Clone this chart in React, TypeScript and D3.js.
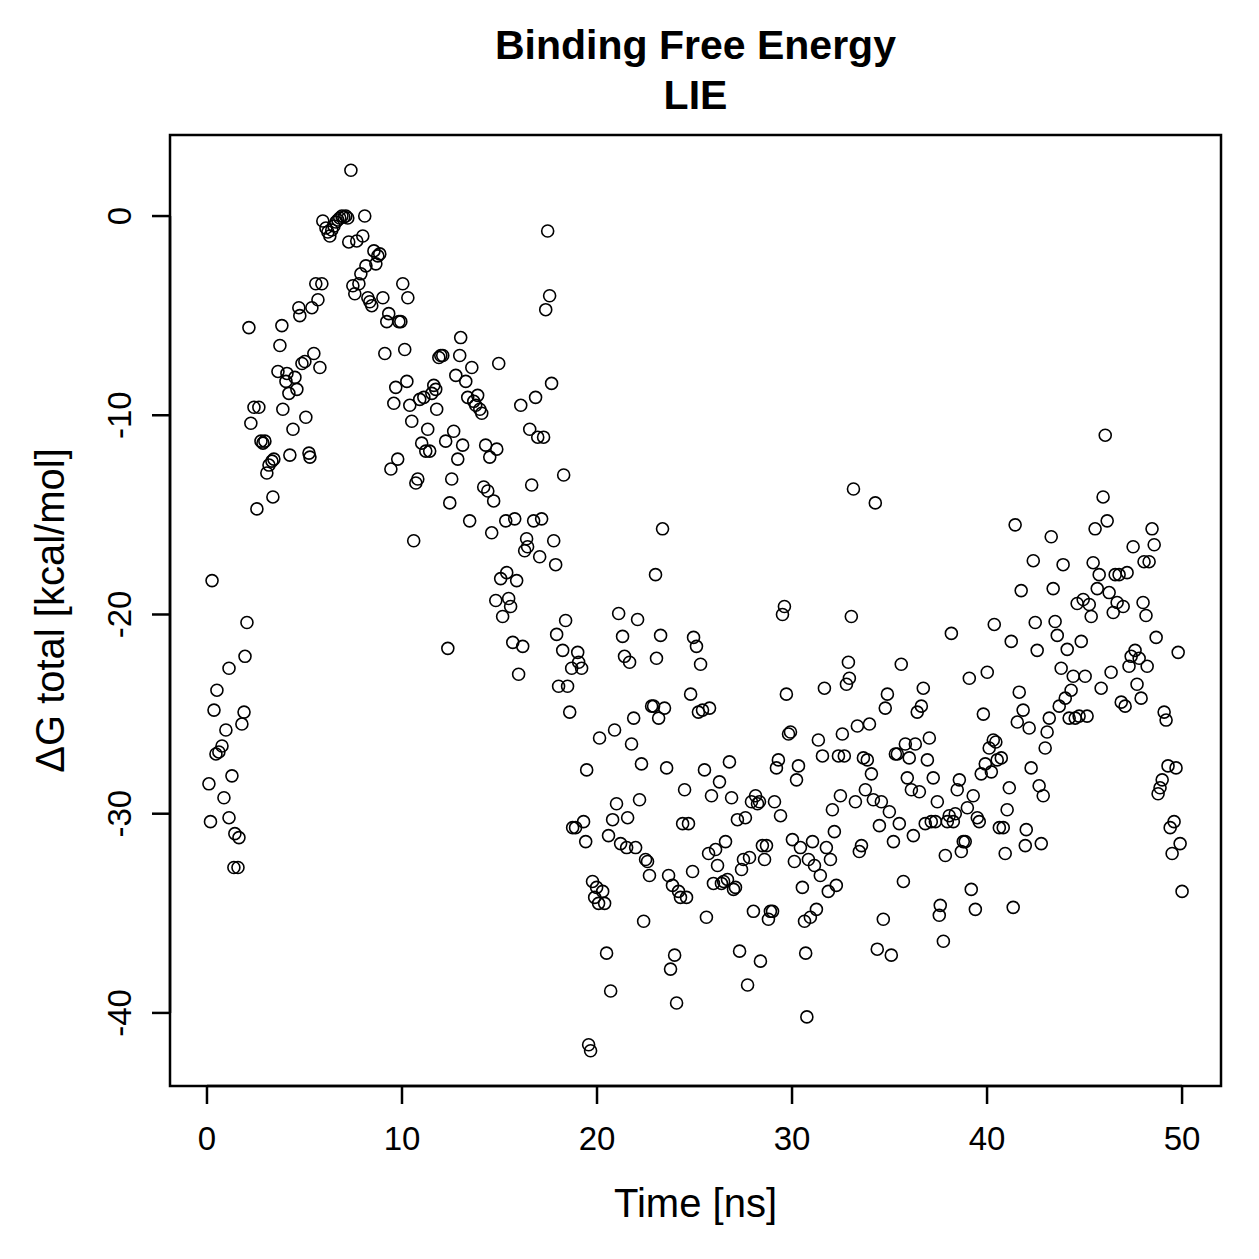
import * as d3 from 'd3';
import React, {useEffect, useRef} from 'react';

// time [ns] of each frame
const timeNs: number[] = [
  0.1, 0.18, 0.26, 0.36, 0.46, 0.51, 0.61, 0.77, 0.87, 0.97, 1.13, 1.13, 1.28, 1.38, 1.43, 1.59, 1.64, 1.79, 1.9, 1.95,
  2.05, 2.15, 2.25, 2.41, 2.56, 2.66, 2.77, 2.87, 2.97, 3.07, 3.18, 3.33, 3.38, 3.43,
  3.64, 3.74, 3.84, 3.89, 4.05, 4.1, 4.2, 4.25, 4.41, 4.51, 4.61, 4.71, 4.76, 4.87, 5.02, 5.07, 5.23, 5.28, 5.38, 5.48,
  5.58, 5.69, 5.79, 5.89,
  5.94, 6.1, 6.2, 6.3, 6.4, 6.51, 6.61, 6.71, 6.81, 6.92, 7.02, 7.12, 7.22, 7.27, 7.38, 7.48, 7.58, 7.68, 7.79, 7.89, 7.99,
  8.09, 8.15, 8.25, 8.35, 8.45, 8.56, 8.66, 8.76, 8.86, 9.02, 9.12, 9.22, 9.32, 9.43, 9.58, 9.68, 9.78, 9.84, 9.94,
  10.04, 10.14, 10.25, 10.3, 10.4, 10.5, 10.6, 10.71, 10.81, 10.91, 11.01, 11.12, 11.22, 11.32, 11.42, 11.53, 11.63, 11.73, 11.78, 11.89, 11.99,
  12.09, 12.24, 12.35, 12.45, 12.55, 12.65, 12.76, 12.86, 12.96, 13.01, 13.11, 13.27, 13.37, 13.47, 13.58, 13.68, 13.78, 13.88, 13.99,
  14.09, 14.19, 14.29, 14.4, 14.5, 14.6, 14.7, 14.81, 14.86, 14.96, 15.06, 15.16, 15.32, 15.37, 15.47, 15.57, 15.68, 15.78, 15.88, 15.98,
  16.09, 16.19, 16.29, 16.39, 16.44, 16.55, 16.65, 16.75, 16.85, 16.96, 17.06, 17.16, 17.26, 17.37, 17.47, 17.57, 17.67, 17.78, 17.88,
  17.93, 18.03, 18.24, 18.29, 18.39, 18.49, 18.6, 18.7, 18.75, 18.9, 19.01, 19.06, 19.21, 19.31, 19.42, 19.47, 19.57, 19.67, 19.77, 19.88,
  19.98, 20.08, 20.13, 20.29, 20.39, 20.49, 20.59, 20.7, 20.8, 20.9, 21.0, 21.11, 21.21, 21.31, 21.41, 21.52, 21.57, 21.67, 21.77, 21.88,
  21.98, 22.08, 22.18, 22.28, 22.39, 22.49, 22.59, 22.69, 22.8, 22.9, 23.0, 23.05, 23.16, 23.26, 23.36, 23.46, 23.57, 23.67, 23.77, 23.87, 23.98,
  24.08, 24.18, 24.28, 24.39, 24.49, 24.59, 24.69, 24.8, 24.9, 24.95, 25.1, 25.2, 25.31, 25.41, 25.51, 25.61, 25.72, 25.77, 25.87, 25.97,
  26.08, 26.18, 26.28, 26.38, 26.49, 26.59, 26.69, 26.79, 26.9, 27.0, 27.1, 27.2, 27.31, 27.41, 27.51, 27.61, 27.72, 27.82, 27.92,
  28.02, 28.13, 28.23, 28.33, 28.38, 28.48, 28.59, 28.69, 28.79, 28.89, 29.0, 29.1, 29.2, 29.3, 29.41, 29.51, 29.61, 29.71, 29.82, 29.92,
  30.02, 30.12, 30.23, 30.33, 30.43, 30.53, 30.64, 30.7, 30.76, 30.84, 30.94, 31.05, 31.15, 31.25, 31.35, 31.45, 31.56, 31.66, 31.76, 31.86, 31.97,
  32.07, 32.17, 32.27, 32.38, 32.48, 32.58, 32.68, 32.79, 32.89, 32.94, 33.04, 33.15, 33.25, 33.35, 33.45, 33.56, 33.66, 33.76, 33.86, 33.97,
  34.07, 34.17, 34.27, 34.37, 34.48, 34.58, 34.68, 34.78, 34.89, 34.99, 35.09, 35.2, 35.3, 35.4, 35.5, 35.6, 35.71, 35.81, 35.91,
  36.01, 36.12, 36.22, 36.32, 36.42, 36.53, 36.63, 36.73, 36.83, 36.94, 37.04, 37.14, 37.24, 37.35, 37.45, 37.55, 37.6, 37.76, 37.86, 37.96,
  38.06, 38.17, 38.27, 38.37, 38.47, 38.58, 38.68, 38.78, 38.88, 38.99, 39.09, 39.19, 39.29, 39.4, 39.5, 39.6, 39.7, 39.81, 39.91, 40.01,
  40.11, 40.22, 40.32, 40.37, 40.45, 40.52, 40.63, 40.73, 40.83, 40.93, 41.03, 41.14, 41.24, 41.34, 41.44, 41.55, 41.65, 41.75, 41.85, 41.96,
  42.01, 42.16, 42.26, 42.37, 42.47, 42.57, 42.67, 42.78, 42.88, 42.98, 43.08, 43.19, 43.29, 43.39, 43.49, 43.6, 43.7, 43.8, 43.9,
  44.01, 44.11, 44.21, 44.31, 44.42, 44.52, 44.62, 44.72, 44.83, 44.93, 45.03, 45.13, 45.24, 45.34, 45.44, 45.54, 45.65, 45.75, 45.85, 45.95,
  46.06, 46.16, 46.26, 46.36, 46.47, 46.57, 46.67, 46.77, 46.88, 46.98, 47.08, 47.18, 47.28, 47.39, 47.49, 47.59, 47.69, 47.8, 47.9, 48.0,
  48.05, 48.15, 48.21, 48.31, 48.46, 48.57, 48.67, 48.77, 48.87, 48.98, 49.08, 49.18, 49.28, 49.39, 49.49, 49.59, 49.69, 49.8, 49.9, 50.0
];

// dG total [kcal/mol], same order as timeNs
const dgTotal: number[] = [
  -28.5, -30.4, -18.3, -24.8, -27.0, -23.8, -26.9, -26.6, -29.2, -25.8, -22.7, -30.2, -28.1, -32.7, -31.0, -32.7, -31.2, -25.5, -24.9, -22.1,
  -20.4, -5.6, -10.4, -9.6, -14.7, -9.6, -11.3, -11.4, -11.3, -12.9, -12.5, -12.3, -14.1, -12.2,
  -7.8, -6.5, -5.5, -9.7, -8.3, -7.9, -8.9, -12.0, -10.7, -8.1, -8.7, -4.6, -5.0, -7.4, -7.3, -10.1, -11.9, -12.1, -4.6, -6.9,
  -3.4, -4.2, -7.6, -3.4,
  -0.25, -0.6, -0.8, -1.0, -0.7, -0.5, -0.3, -0.2, -0.1, 0, -0.05, 0, -0.1, -1.3, 2.3, -3.5, -3.9, -1.25, -3.4, -2.9, -1.0,
  0, -2.5, -4.1, -4.3, -4.5, -1.75, -2.4, -2.0, -1.9, -4.1, -6.9, -5.3, -4.9, -12.7, -9.4, -8.6, -12.2, -5.3, -5.3,
  -3.4, -6.7, -8.3, -4.1, -9.5, -10.3, -16.3, -13.4, -13.2, -9.2, -11.4, -9.1, -11.8, -10.7, -11.8, -8.9, -8.5, -8.7, -9.7, -7.1, -7.0,
  -7.0, -11.3, -21.7, -14.4, -13.2, -10.8, -8.0, -12.2, -7.0, -6.1, -11.5, -8.3, -9.1, -15.3, -7.6, -9.3, -9.5, -9.0, -9.7,
  -9.9, -13.6, -11.5, -13.8, -12.1, -15.9, -14.3, -19.3, -11.7, -7.4, -18.2, -20.1, -15.3, -17.9, -19.2, -19.6, -21.4, -15.2, -18.3, -23.0,
  -9.5, -21.6, -16.8, -16.2, -16.6, -10.7, -13.5, -15.3, -9.1, -11.1, -17.1, -15.2, -11.1, -4.7, -0.75, -4.0, -8.4, -16.3, -17.5,
  -21.0, -23.6, -21.8, -13.0, -20.3, -23.6, -24.9, -22.7, -30.7, -30.7, -21.9, -22.4, -22.7, -30.4, -31.4, -27.8, -41.6, -41.9, -33.4, -34.2,
  -33.7, -34.5, -26.2, -33.9, -34.5, -37.0, -31.1, -38.9, -30.3, -25.8, -29.5, -19.95, -31.5, -21.1, -22.1, -31.7, -30.2, -22.4, -26.5, -25.2,
  -31.7, -20.25, -29.3, -27.5, -35.4, -32.3, -32.4, -33.1, -24.6, -24.6, -18.0, -22.2, -25.2, -21.05, -15.7, -24.7, -27.7, -33.1, -37.8, -33.6, -37.1,
  -39.5, -33.9, -34.2, -30.5, -28.8, -34.2, -30.5, -24.0, -32.9, -21.15, -21.6, -24.9, -22.5, -24.8, -27.8, -35.2, -32.0, -24.7, -29.1, -33.5,
  -31.8, -32.6, -28.4, -33.5, -33.4, -31.4, -33.3, -27.4, -29.2, -33.8, -33.7, -30.3, -36.9, -32.8, -32.3, -30.2, -38.6, -32.2, -29.4,
  -34.9, -29.1, -29.5, -29.4, -37.4, -31.6, -32.3, -31.6, -35.3, -34.9, -34.9, -29.4, -27.7, -27.3, -30.1, -20.0, -19.6, -24.0, -26.0, -25.9,
  -31.3, -32.4, -28.3, -27.6, -31.7, -33.7, -35.4, -37.0, -40.2, -32.3, -35.2, -31.4, -32.6, -34.8, -26.3, -33.1, -27.1, -23.7, -31.7, -33.9, -32.3,
  -29.8, -30.9, -33.6, -27.1, -29.1, -26.0, -27.1, -23.5, -22.4, -23.2, -20.1, -13.7, -29.4, -25.6, -31.9, -31.6, -27.2, -28.8, -27.3, -25.5,
  -28.0, -29.3, -14.4, -36.8, -30.6, -29.4, -35.3, -24.7, -24.0, -29.9, -37.1, -31.4, -27.0, -27.0, -30.5, -22.5, -33.4, -26.5, -28.2,
  -27.2, -28.8, -31.1, -26.5, -24.9, -28.9, -24.6, -23.7, -30.5, -27.3, -26.2, -30.4, -28.2, -30.4, -29.4, -35.1, -34.6, -36.4, -32.1, -30.4,
  -30.1, -20.95, -30.4, -30.0, -28.8, -28.3, -31.9, -31.4, -31.4, -29.7, -23.2, -33.8, -29.1, -34.8, -30.2, -30.4, -28.0, -25.0, -27.5, -22.9,
  -26.7, -27.9, -26.3, -20.5, -26.4, -27.3, -30.7, -27.2, -30.7, -32.0, -29.8, -28.7, -21.35, -34.7, -15.5, -25.4, -23.9, -18.8, -24.8, -31.6,
  -30.8, -25.7, -27.7, -17.3, -20.4, -21.8, -28.6, -31.5, -29.1, -26.7, -25.9, -25.2, -16.1, -18.7, -20.35, -21.05, -24.6, -22.7, -17.5,
  -24.2, -21.75, -25.2, -23.8, -23.1, -25.2, -19.45, -25.1, -21.35, -19.25, -23.1, -25.1, -19.5, -20.1, -17.4, -15.7, -18.7, -18.0, -23.7, -14.1,
  -11.0, -15.3, -18.9, -22.9, -19.9, -18.0, -19.4, -18.0, -24.4, -19.6, -24.6, -17.9, -22.6, -22.1, -16.6, -21.8, -23.5, -22.2, -24.2, -19.4,
  -17.35, -20.05, -22.6, -17.35, -15.7, -16.5, -21.15, -29.0, -28.7, -28.3, -24.9, -25.3, -27.6, -30.7, -32.0, -30.4, -27.7, -21.9, -31.5, -33.9
];

const xTicks = [0, 10, 20, 30, 40, 50];
const yTicks = [0, -10, -20, -30, -40];

const titleLines = ['Binding Free Energy', 'LIE'];
const xLabel = 'Time [ns]';
const yLabel = '\u0394G total [kcal/mol]';

// R-like 4% padding around the data range
const padded = (vals: number[]): [number, number] => {
  const [lo, hi] = d3.extent(vals) as [number, number];
  const pad = (hi - lo) * 0.04;
  return [lo - pad, hi + pad];
};

const App: React.FC = () => {
  const ref = useRef<SVGSVGElement>(null);

  useEffect(() => {
    document.body.style.margin = '0';
    const size = 1259;
    const box = {left: 170, right: 1221, top: 135, bottom: 1086};
    const font = '"Liberation Sans", Arial, Helvetica, sans-serif';

    const svg = d3.select(ref.current);
    svg.selectAll('*').remove();
    svg.attr('width', size).attr('height', size);

    svg.append('rect').attr('width', size).attr('height', size).attr('fill', '#fff');

    const x = d3.scaleLinear().domain(padded(timeNs)).range([box.left, box.right]);
    const y = d3.scaleLinear().domain(padded(dgTotal)).range([box.bottom, box.top]);

    const points = timeNs.map((t, i) => ({t, v: dgTotal[i]}));

    svg.append('g')
      .selectAll('circle')
      .data(points)
      .enter()
      .append('circle')
      .attr('cx', d => x(d.t))
      .attr('cy', d => y(d.v))
      .attr('r', 6)
      .attr('fill', 'none')
      .attr('stroke', '#000')
      .attr('stroke-width', 1.6);

    // plot frame
    svg.append('rect')
      .attr('x', box.left)
      .attr('y', box.top)
      .attr('width', box.right - box.left)
      .attr('height', box.bottom - box.top)
      .attr('fill', 'none')
      .attr('stroke', '#000')
      .attr('stroke-width', 2.5);

    const tickLen = 18;

    // x axis
    const xAxis = svg.append('g').attr('stroke', '#000').attr('stroke-width', 2.5);
    xAxis.append('line')
      .attr('x1', x(xTicks[0])).attr('x2', x(xTicks[xTicks.length - 1]))
      .attr('y1', box.bottom).attr('y2', box.bottom);
    xAxis.selectAll('line.tick')
      .data(xTicks)
      .enter()
      .append('line')
      .attr('class', 'tick')
      .attr('x1', d => x(d)).attr('x2', d => x(d))
      .attr('y1', box.bottom).attr('y2', box.bottom + tickLen);
    svg.append('g')
      .selectAll('text')
      .data(xTicks)
      .enter()
      .append('text')
      .attr('x', d => x(d))
      .attr('y', 1150)
      .attr('text-anchor', 'middle')
      .attr('font-family', font)
      .attr('font-size', 33)
      .text(d => String(d));

    // y axis
    const yAxis = svg.append('g').attr('stroke', '#000').attr('stroke-width', 2.5);
    yAxis.append('line')
      .attr('x1', box.left).attr('x2', box.left)
      .attr('y1', y(yTicks[0])).attr('y2', y(yTicks[yTicks.length - 1]));
    yAxis.selectAll('line.tick')
      .data(yTicks)
      .enter()
      .append('line')
      .attr('class', 'tick')
      .attr('x1', box.left - tickLen).attr('x2', box.left)
      .attr('y1', d => y(d)).attr('y2', d => y(d));
    svg.append('g')
      .selectAll('text')
      .data(yTicks)
      .enter()
      .append('text')
      .attr('transform', d => `translate(131, ${y(d)}) rotate(-90)`)
      .attr('text-anchor', 'middle')
      .attr('font-family', font)
      .attr('font-size', 33)
      .text(d => String(d));

    // titles
    const cx = (box.left + box.right) / 2;
    svg.append('g')
      .selectAll('text')
      .data(titleLines)
      .enter()
      .append('text')
      .attr('x', cx)
      .attr('y', (d, i) => 59 + i * 50)
      .attr('text-anchor', 'middle')
      .attr('font-family', font)
      .attr('font-weight', 'bold')
      .attr('font-size', 41)
      .text(d => d);

    svg.append('text')
      .attr('x', cx)
      .attr('y', 1217)
      .attr('text-anchor', 'middle')
      .attr('font-family', font)
      .attr('font-size', 40)
      .text(xLabel);

    svg.append('text')
      .attr('transform', `translate(64, ${(box.top + box.bottom) / 2}) rotate(-90)`)
      .attr('text-anchor', 'middle')
      .attr('font-family', font)
      .attr('font-size', 40)
      .text(yLabel);
  }, []);

  return (
    <div className='App'>
      <svg ref={ref} style={{display: 'block'}}/>
    </div>
  );
};

export default App;
